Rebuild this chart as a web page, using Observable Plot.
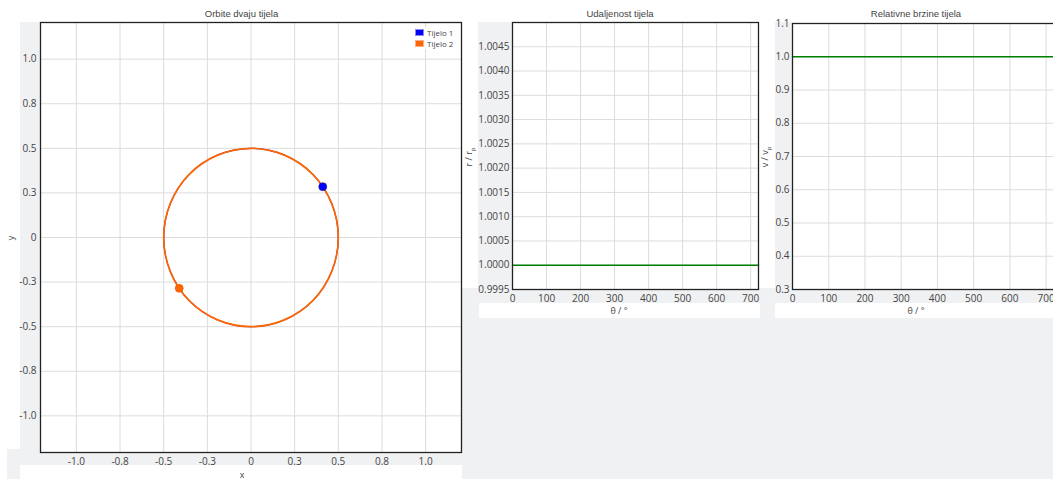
<!DOCTYPE html>
<html><head><meta charset="utf-8">
<script src="https://cdn.jsdelivr.net/npm/d3@7"></script>
<script src="https://cdn.jsdelivr.net/npm/@observablehq/plot@0.6"></script>
<style>
body{margin:0;background:#fff;}
#root{position:relative;width:1053px;height:479px;overflow:hidden;background:#fff;color:#444;}
.g{position:absolute;background:#f0f1f3;}
.w{position:absolute;background:#fff;}
.t{position:absolute;font-family:"Liberation Sans",Arial,sans-serif;font-size:9.5px;color:#444;white-space:nowrap;transform:translate(-50%,-50%);line-height:1;}
.lab{position:absolute;font-family:"Open Sans",sans-serif;font-size:9px;color:#444;white-space:nowrap;transform:translate(-50%,-50%);line-height:1;}
.rot{transform:translate(-50%,-50%) rotate(-90deg);}
.chart{position:absolute;top:0;}
.leg{position:absolute;font-family:"Open Sans",sans-serif;font-size:8px;color:#444;line-height:1;}
.leg .row{display:flex;align-items:center;height:11px;}
.leg .sw{width:9px;height:7px;margin-right:3px;box-sizing:border-box;}
</style></head><body><div id="root"></div>
<script>
// ---------- data ----------
const orbitX = [0.5, 0.462, 0.354, 0.191, 0, -0.191, -0.354, -0.462, -0.5, -0.462, -0.354, -0.191, 0, 0.191, 0.354, 0.462];
const orbitY = [0, 0.191, 0.354, 0.462, 0.5, 0.462, 0.354, 0.191, 0, -0.191, -0.354, -0.462, -0.5, -0.462, -0.354, -0.191];
const bodies = ["Tijelo 1", "Tijelo 2"];
const bodyColors = ["#0000ff", "#ff6600"];
const bodyX = [0.411, -0.411];
const bodyY = [0.285, -0.285];
const orbitTicks = [-1, -0.75, -0.5, -0.25, 0, 0.25, 0.5, 0.75, 1];
const orbitTickLabels = ["-1.0", "-0.8", "-0.5", "-0.3", "0", "0.3", "0.5", "0.8", "1.0"];
const theta = [0, 723];
const distance = [1, 1];
const speed = [1, 1];
const thetaTicks = [0, 100, 200, 300, 400, 500, 600, 700];
const distTicks = [0.9995, 1.0000, 1.0005, 1.0010, 1.0015, 1.0020, 1.0025, 1.0030, 1.0035, 1.0040, 1.0045];
const speedTicks = [0.3, 0.4, 0.5, 0.6, 0.7, 0.8, 0.9, 1.0, 1.1];

const orbit = orbitX.map((x, i) => ({x, y: orbitY[i]}));
const bodyPts = bodies.map((b, i) => ({b, x: bodyX[i], y: bodyY[i], c: bodyColors[i]}));
const distData = theta.map((t, i) => ({t, v: distance[i]}));
const speedData = theta.map((t, i) => ({t, v: speed[i]}));

// ---------- layout ----------
const root = document.getElementById("root");
function el(cls, x, y, w, h, html) {
  const d = document.createElement("div");
  d.className = cls;
  d.style.left = x + "px"; d.style.top = y + "px";
  if (w != null) d.style.width = w + "px";
  if (h != null) d.style.height = h + "px";
  if (html != null) d.innerHTML = html;
  root.appendChild(d);
  return d;
}
el("g", 20, 22, 21, 430);
el("g", 7, 449, 456, 16);
el("g", 7, 465, 13, 14);
el("w", 20, 465, 443, 14);
el("g", 462, 288, 591, 191);
el("w", 479, 303, 281, 15);
el("w", 775, 303, 278, 15);
el("g", 478, 22, 34, 267);
el("g", 775, 22, 18, 267);

const GRID = "#dcdcdc";
const FRAME = "#222";
const style = {fontFamily: "'Open Sans', sans-serif", fontSize: "10px", color: "#444", background: "transparent", overflow: "visible"};

function place(svg, left) {
  svg.classList.add("chart");
  svg.style.left = left + "px";
  root.appendChild(svg);
}

// Left: orbits
const fmtOrbit = d => orbitTickLabels[orbitTicks.indexOf(d)];
const p1 = Plot.plot({
  width: 470, height: 470,
  marginLeft: 40, marginRight: 9, marginTop: 22, marginBottom: 18,
  style,
  x: {domain: [-1.2055, 1.2055], label: null},
  y: {domain: [-1.2055, 1.2055], label: null},
  marks: [
    Plot.frame({fill: "white", stroke: null}),
    Plot.gridX(orbitTicks, {stroke: GRID, strokeOpacity: 1}),
    Plot.gridY(orbitTicks, {stroke: GRID, strokeOpacity: 1}),
    Plot.axisX({ticks: orbitTicks, tickFormat: fmtOrbit, tickSize: 0, tickPadding: 5, label: null}),
    Plot.axisY({ticks: orbitTicks, tickFormat: fmtOrbit, tickSize: 0, tickPadding: 4, label: null}),
    Plot.line(orbit, {x: "x", y: "y", curve: "catmull-rom-closed", stroke: bodyColors[0], strokeWidth: 1.1}),
    Plot.line(orbit, {x: "x", y: "y", curve: "catmull-rom-closed", stroke: bodyColors[1], strokeWidth: 1.7}),
    Plot.dot([bodyPts[0]], {x: "x", y: "y", r: 4, fill: bodyColors[0], stroke: "#1a1a8a", strokeWidth: 0.6}),
    Plot.dot([bodyPts[1]], {x: "x", y: "y", r: 4, fill: bodyColors[1], stroke: "#e05a00", strokeWidth: 0.6}),
    Plot.frame({stroke: FRAME, strokeWidth: 1.3})
  ]
});
place(p1, 0);

// Middle: distance
const p2 = Plot.plot({
  width: 300, height: 320,
  marginLeft: 49, marginRight: 5, marginTop: 22, marginBottom: 31,
  style,
  x: {domain: [0, 723], label: null},
  y: {domain: [0.9995, 1.0050], label: null},
  marks: [
    Plot.frame({fill: "white", stroke: null}),
    Plot.gridX(thetaTicks, {stroke: GRID, strokeOpacity: 1}),
    Plot.gridY(distTicks, {stroke: GRID, strokeOpacity: 1}),
    Plot.axisX({ticks: thetaTicks, tickFormat: d3.format("d"), tickSize: 0, tickPadding: 5, label: null}),
    Plot.axisY({ticks: distTicks, tickFormat: d3.format(".4f"), tickSize: 0, tickPadding: 3, label: null}),
    Plot.line(distData, {x: "t", y: "v", stroke: "#008000", strokeWidth: 1.5}),
    Plot.frame({stroke: FRAME, strokeWidth: 1.3})
  ]
});
place(p2, 463);

// Right: speed
const p3 = Plot.plot({
  width: 300, height: 320,
  marginLeft: 29, marginRight: 9, marginTop: 23, marginBottom: 31,
  style,
  x: {domain: [0, 723], label: null},
  y: {domain: [0.3, 1.1], label: null},
  marks: [
    Plot.frame({fill: "white", stroke: null}),
    Plot.gridX(thetaTicks, {stroke: GRID, strokeOpacity: 1}),
    Plot.gridY(speedTicks, {stroke: GRID, strokeOpacity: 1}),
    Plot.axisX({ticks: thetaTicks, tickFormat: d3.format("d"), tickSize: 0, tickPadding: 5, label: null}),
    Plot.axisY({ticks: speedTicks, tickFormat: d3.format(".1f"), tickSize: 0, tickPadding: 3, label: null}),
    Plot.line(speedData, {x: "t", y: "v", stroke: "#008000", strokeWidth: 1.5}),
    Plot.frame({stroke: FRAME, strokeWidth: 1.3})
  ]
});
place(p3, 763);

// Titles & axis labels
el("t", 241.5, 13.5, null, null, "Orbite dvaju tijela");
el("t", 620, 13.5, null, null, "Udaljenost tijela");
el("t", 916, 13.5, null, null, "Relativne brzine tijela");
el("lab", 242, 474, null, null, "x");
el("lab rot", 10, 238, null, null, "y");
el("lab", 619, 310, null, null, "θ / °");
el("lab", 916, 310, null, null, "θ / °");
el("lab rot", 470, 157, null, null, "r / r<sub style='font-size:6px'>p</sub>");
el("lab rot", 766, 157, null, null, "v / v<sub style='font-size:6px'>p</sub>");

// Legend
const leg = el("leg", 415, 27);
leg.style.background = "white";
bodies.forEach((b, i) => {
  const row = document.createElement("div");
  row.className = "row";
  row.innerHTML = `<div class="sw" style="background:${bodyColors[i]};border:1px solid ${i === 0 ? '#8a8af0' : '#f5b08a'}"></div><span>${b}</span>`;
  leg.appendChild(row);
});
</script></body></html>
